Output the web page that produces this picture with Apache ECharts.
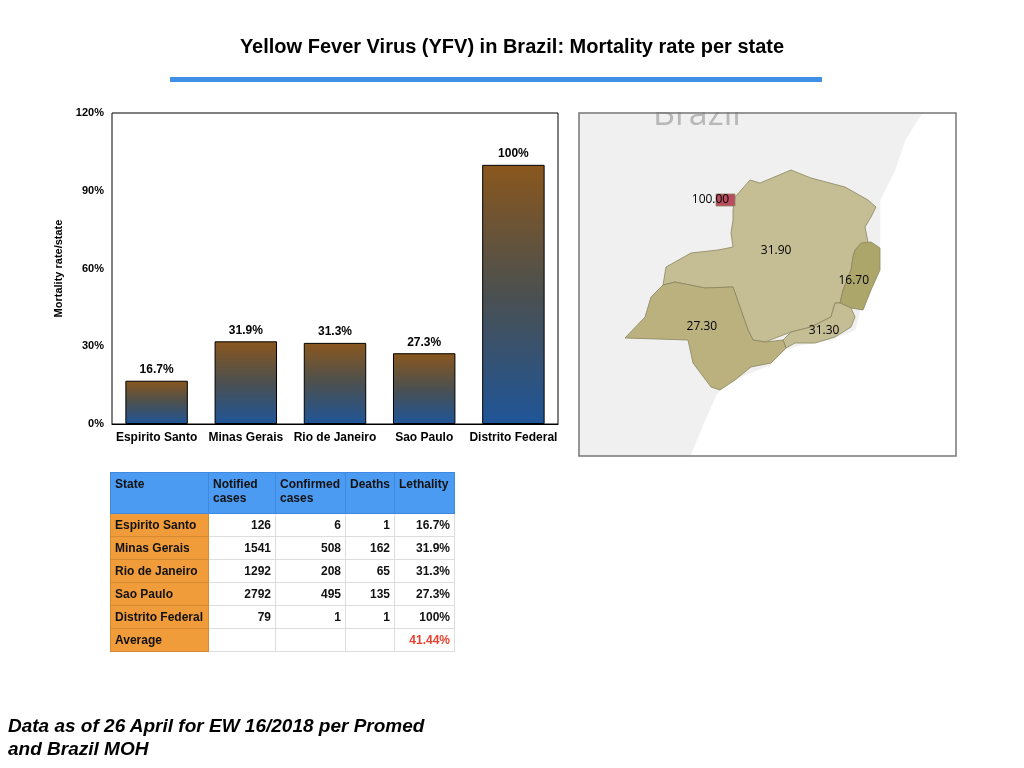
<!DOCTYPE html>
<html>
<head>
<meta charset="utf-8">
<script src="https://cdn.jsdelivr.net/npm/echarts@6/dist/echarts.min.js"></script>
<style>
  body { margin: 0; background: #fff; font-family: "Liberation Sans", Arial, sans-serif; }
  #chart { position: absolute; left: 0; top: 0; width: 1024px; height: 768px; }
  #tbl { position: absolute; left: 110px; top: 472px; border-collapse: collapse; font-size: 12px; font-weight: bold; color: #111; }
  #tbl td { border: 1px solid #ddd; padding: 0 4px; height: 22px; text-align: right; }
  #tbl td.st { background: #f19c3a; text-align: left; border-color: #d88a30; }
  #tbl tr.hd td { background: #4b9bf2; text-align: left; vertical-align: top; height: 36px; padding-top: 4px; border-color: #3f8ae0; }
  #note { position: absolute; left: 8px; top: 714px; font-size: 19px; font-weight: bold; font-style: italic; line-height: 23px; }
</style>
</head>
<body>
<div id="chart"></div>
<table id="tbl"></table>
<div id="note">Data as of 26 April for EW 16/2018 per Promed<br>and Brazil MOH</div>
<script>
// 数据
var states = ['Espirito Santo', 'Minas Gerais', 'Rio de Janeiro', 'Sao Paulo', 'Distrito Federal'];
var mortality = [16.7, 31.9, 31.3, 27.3, 100];
var notified = [126, 1541, 1292, 2792, 79];
var confirmed = [6, 508, 208, 495, 1];
var deaths = [1, 162, 65, 135, 1];
var lethality = ['16.7%', '31.9%', '31.3%', '27.3%', '100%'];
var average = '41.44%';

// 表格
var html = '<tr class="hd"><td style="width:89px">State</td><td style="width:58px">Notified<br>cases</td>' +
  '<td style="width:61px">Confirmed<br>cases</td><td style="width:40px">Deaths</td><td style="width:51px">Lethality</td></tr>';
for (var i = 0; i < states.length; i++) {
  html += '<tr><td class="st">' + states[i] + '</td><td>' + notified[i] + '</td><td>' + confirmed[i] +
    '</td><td>' + deaths[i] + '</td><td>' + lethality[i] + '</td></tr>';
}
html += '<tr><td class="st">Average</td><td></td><td></td><td></td><td style="color:#e8432d">' + average + '</td></tr>';
document.getElementById('tbl').innerHTML = html;

// 简化地图轮廓（页面像素 /10，纬度取负）
function poly(pts) {
  return pts.map(function(p) { return [p[0] / 10, -p[1] / 10]; });
}
function feat(name, pts) {
  return { type: 'Feature', properties: { name: name }, geometry: { type: 'Polygon', coordinates: [poly(pts)] } };
}
var geo = { type: 'FeatureCollection', features: [
  feat('Land', [[579,113],[922,113],[905,140],[895,170],[880,200],[880,240],[878,262],[865,290],[855,330],[830,340],[800,345],[785,350],[770,365],[745,375],[725,385],[716,395],[705,420],[690,456],[579,456]]),
  feat('Minas Gerais', [[733,210],[735,197],[750,180],[760,183],[791,170],[811,178],[845,187],[868,200],[876,207],[871,217],[865,227],[868,242],[855,250],[853,257],[851,270],[843,290],[840,303],[835,303],[831,317],[811,327],[791,332],[765,342],[753,340],[748,330],[741,310],[733,287],[705,288],[675,282],[663,285],[666,267],[691,253],[718,250],[733,247],[731,233],[733,220]]),
  feat('Espirito Santo', [[855,250],[861,243],[871,242],[880,248],[880,270],[871,290],[863,310],[851,308],[840,303],[843,290],[851,270],[853,257]]),
  feat('Rio de Janeiro', [[835,303],[840,303],[851,308],[855,317],[851,327],[835,337],[815,343],[795,343],[786,348],[783,340],[791,332],[811,327],[831,317]]),
  feat('Sao Paulo', [[663,285],[675,282],[705,288],[733,287],[741,310],[748,330],[753,340],[765,342],[783,340],[786,348],[771,363],[751,367],[735,380],[720,390],[711,387],[693,363],[688,340],[625,338],[645,317],[651,297]]),
  feat('Distrito Federal', [[716,194],[735,194],[735,206],[716,206]])
]};
echarts.registerMap('se_brazil', geo);

var fills = { 'Espirito Santo': '#aca66b', 'Minas Gerais': '#c5bd94', 'Rio de Janeiro': '#c5bd94', 'Sao Paulo': '#bab17f', 'Distrito Federal': '#b94c5e' };
var labelOffsets = { 'Espirito Santo': [-8, 5], 'Minas Gerais': [-8, -2], 'Rio de Janeiro': [0, 3], 'Sao Paulo': [-5, -4], 'Distrito Federal': [-15, 0] };
var mapData = [{ name: 'Land', value: null, itemStyle: { areaColor: '#f0f0f0', borderColor: '#f0f0f0' }, label: { show: false } }];
for (var j = 0; j < states.length; j++) {
  mapData.push({
    name: states[j],
    value: mortality[j],
    itemStyle: { areaColor: fills[states[j]] },
    label: { show: true, offset: labelOffsets[states[j]] }
  });
}

var chart = echarts.init(document.getElementById('chart'));
chart.setOption({
  animation: false,
  title: {
    text: 'Yellow Fever Virus (YFV) in Brazil: Mortality rate per state',
    left: 'center', top: 32,
    textStyle: { fontSize: 20, fontWeight: 'bold', color: '#000', fontFamily: 'Liberation Sans' }
  },
  graphic: [
    { type: 'rect', shape: { x: 170, y: 77, width: 652, height: 5 }, style: { fill: '#3f90e6' } },
    { type: 'text', x: 653, y: 98, z: 20, style: { text: 'Brazil', fontSize: 34, fill: '#b8b8b8', fontFamily: 'Open Sans' } },
    { type: 'rect', shape: { x: 579, y: 88, width: 378, height: 24 }, style: { fill: '#fff' }, z: 21 },
    { type: 'rect', shape: { x: 579, y: 113, width: 377, height: 343 }, style: { fill: 'none', stroke: '#777', lineWidth: 1.5 }, z: 22 }
  ],
  grid: { left: 112, right: 466, top: 113, bottom: 344, show: true, borderColor: '#000', borderWidth: 1 },
  xAxis: {
    type: 'category', data: states,
    axisLine: { lineStyle: { color: '#000' } }, axisTick: { show: false },
    axisLabel: { color: '#000', fontWeight: 'bold', fontSize: 12, interval: 0 }
  },
  yAxis: {
    type: 'value', min: 0, max: 120, interval: 30,
    name: 'Mortality rate/state', nameLocation: 'middle', nameGap: 48,
    nameTextStyle: { fontWeight: 'bold', fontSize: 11, color: '#000' },
    splitLine: { show: false }, axisLine: { show: false }, axisTick: { show: false },
    axisLabel: { color: '#000', fontWeight: 'bold', fontSize: 11, formatter: '{value}%' }
  },
  series: [{
    type: 'bar', data: mortality, barWidth: '70%',
    itemStyle: {
      borderColor: '#000', borderWidth: 1,
      color: new echarts.graphic.LinearGradient(0, 0, 0, 1, [
        { offset: 0, color: '#8a571d' }, { offset: 0.5, color: '#4b5050' }, { offset: 1, color: '#1f5598' }
      ])
    },
    label: {
      show: true, position: 'top', color: '#000', fontWeight: 'bold', fontSize: 12,
      formatter: function(p) { return p.value + '%'; }
    }
  }, {
    type: 'map', map: 'se_brazil', aspectScale: 1, roam: false,
    boundingCoords: [[57.9, -11.3], [95.6, -45.6]],
    left: 579, top: 113, width: 377, height: 343,
    selectedMode: false, silent: true,
    itemStyle: { borderColor: '#8a8560', borderWidth: 0.8 },
    label: {
      color: '#000', fontSize: 12, fontFamily: 'Open Sans',
      formatter: function(p) { return p.value.toFixed(2); }
    },
    data: mapData
  }]
});
</script>
</body>
</html>
